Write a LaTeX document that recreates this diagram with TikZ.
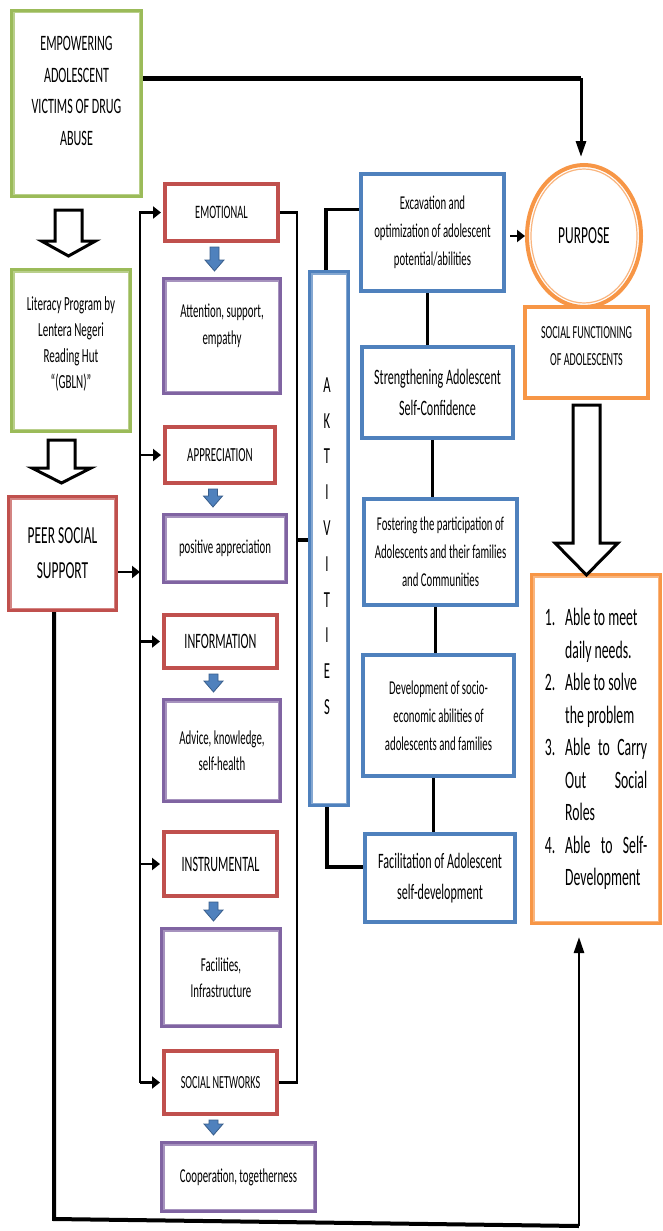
\documentclass[tikz,border=0pt]{standalone}
\usepackage{fontspec}
\setmainfont{Carlito}[FakeStretch=0.55]
\usetikzlibrary{arrows.meta,calc,shapes.geometric}
\definecolor{boxgreen}{HTML}{9BBB59}
\definecolor{boxred}{HTML}{C0504D}
\definecolor{boxpurple}{HTML}{8064A2}
\definecolor{boxblue}{HTML}{4F81BD}
\definecolor{boxorange}{HTML}{F79646}
\definecolor{arrowblue}{HTML}{4F81BD}
\definecolor{arrowedge}{HTML}{385D8A}

\begin{document}
\begin{tikzpicture}[x=1pt,y=-1pt]
    % Node styles
    \tikzset{
        box/.style={draw=#1, line width=4pt, fill=white, align=center, inner sep=2pt},
        innerline/.style={draw=#1!70, line width=1.2pt},
        txt/.style={align=center, inner sep=0pt},
        smalltext/.style={font=\fontsize{19.7}{26.5}\selectfont},
        midtext/.style={font=\fontsize{22}{31.5}\selectfont},
        bigtext/.style={font=\fontsize{24.5}{35}\selectfont},
        conn/.style={line width=2.8pt},
        arr/.style={-{Triangle[length=8pt,width=12pt]}},
        longarr/.style={-{Triangle[length=16pt,width=10pt]}},
        hollow/.style={draw=black, line width=3pt, fill=white},
        bluearr/.style={fill=arrowblue, draw=arrowedge, line width=0.8pt}
    }
    \useasboundingbox (0,0) rectangle (662,1231);

    % --- Left column ---
    \node[box=boxgreen, minimum width=129pt, minimum height=185pt] (empower) at (76.5,103.5) {};
    \node[box=boxgreen, minimum width=118pt, minimum height=161pt] (literacy) at (71,350.5) {};
    \node[box=boxred, bigtext, minimum width=107pt, minimum height=113pt] (peer) at (62.5,553.5) {PEER SOCIAL\\SUPPORT};

    % --- Forms of support ---
    \node[box=boxred, font=\fontsize{19}{26}\selectfont, minimum width=113pt, minimum height=57pt] (emotional) at (221.5,212.5) {EMOTIONAL};
    \node[box=boxpurple, minimum width=116pt, minimum height=114pt] (attention) at (222,336) {};
    \node[box=boxred, font=\fontsize{20}{26}\selectfont, minimum width=110pt, minimum height=56pt] (appreciation) at (220,455) {APPRECIATION};
    \node[box=boxpurple, smalltext, minimum width=122pt, minimum height=67pt] (positive) at (225,548.5) {positive appreciation};
    \node[box=boxred, midtext, minimum width=113pt, minimum height=53pt] (information) at (220.5,641.5) {INFORMATION};
    \node[box=boxpurple, smalltext, minimum width=116pt, minimum height=101pt] (advice) at (222,750.5) {Advice, knowledge,\\self-health};
    \node[box=boxred, midtext, minimum width=113pt, minimum height=64pt] (instrumental) at (220.5,864) {INSTRUMENTAL};
    \node[box=boxpurple, smalltext, minimum width=118pt, minimum height=97pt] (facilities) at (221,977.5) {Facilities,\\Infrastructure};
    \node[box=boxred, font=\fontsize{18.5}{26}\selectfont, minimum width=113pt, minimum height=63pt] (socnet) at (220.5,1082.5) {SOCIAL NETWORKS};
    \node[box=boxpurple, smalltext, minimum width=153pt, minimum height=68pt] (cooperation) at (238.5,1177) {Cooperation, togetherness};

    % --- Activities ---
    \node[box=boxblue, minimum width=38pt, minimum height=533pt] (aktiv) at (329,538.5) {};
    \node[box=boxblue, font=\fontsize{19.6}{28}\selectfont, minimum width=143pt, minimum height=117pt] (excav) at (432.5,232.5) {Excavation and\\optimization of adolescent\\potential/abilities};
    \node[box=boxblue, midtext, minimum width=151pt, minimum height=91pt] (strength) at (437.5,392.5) {Strengthening Adolescent\\Self-Confidence};
    \node[box=boxblue, font=\fontsize{19.6}{28}\selectfont, minimum width=153pt, minimum height=106pt] (foster) at (440.5,552) {Fostering the participation of\\Adolescents and their families\\and Communities};
    \node[box=boxblue, font=\fontsize{19.6}{28}\selectfont, minimum width=151pt, minimum height=121pt] (develop) at (438.5,715.5) {Development of socio-\\economic abilities of\\adolescents and families};
    \node[box=boxblue, midtext, minimum width=150pt, minimum height=88pt] (facilit) at (440,878) {Facilitation of Adolescent\\self-development};

    % --- Purpose ---
    \node[ellipse, draw=boxorange, line width=4pt, fill=white, bigtext, minimum width=114pt, minimum height=142pt] (purpose) at (584,236) {PURPOSE};
    \node[ellipse, innerline=boxorange, minimum width=106pt, minimum height=134pt] (purposering) at (purpose.center) {};
    \node[box=boxorange, minimum width=123pt, minimum height=91pt] (socfunc) at (586.5,352.5) {};
    \node[box=boxorange, font=\fontsize{25}{32.5}\selectfont, minimum width=128pt, minimum height=348pt] (list) at (596,749) {%
        \begin{tabular}{@{}r@{\hspace{10pt}}l@{}}
        1. & Able to meet\\
           & daily needs.\\
        2. & Able to solve\\
           & the problem\\
        3. & \makebox[82pt][s]{Able to Carry}\\
           & \makebox[82pt][s]{Out Social}\\
           & Roles\\
        4. & \makebox[82pt][s]{Able to Self-}\\
           & Development
        \end{tabular}};

    % double frames
    \foreach \n/\c in {empower/boxgreen, literacy/boxgreen, peer/boxred, attention/boxpurple, positive/boxpurple,
                       advice/boxpurple, facilities/boxpurple, cooperation/boxpurple, aktiv/boxblue, list/boxorange}
        \draw[innerline=\c] ([shift={(3.9pt,-3.9pt)}]\n.north west) rectangle ([shift={(-3.9pt,3.9pt)}]\n.south east);

    % texts placed off centre
    \node[txt, midtext] (empowertxt) at (76.5,91) {EMPOWERING\\ADOLESCENT\\VICTIMS OF DRUG\\ABUSE};
    \node[txt, font=\fontsize{20}{26}\selectfont] (literacytxt) at (71,344) {Literacy Program by\\Lentera Negeri\\Reading Hut\\“(GBLN)”};
    \node[txt, smalltext] (attentiontxt) at (222,326) {Attention, support,\\empathy};
    \node[txt, font=\fontsize{23}{35.8}\selectfont] (aktivtxt) at (327,546) {A\\K\\T\\I\\V\\I\\T\\I\\E\\S};
    \node[txt, font=\fontsize{18.4}{27}\selectfont] (socfunctxt) at (586.5,346.5) {SOCIAL FUNCTIONING\\OF ADOLESCENTS};

    % --- Hollow arrows ---
    \draw[hollow] let \p1=([xshift=-8pt]empower.south), \p2=(literacy.north) in
        (\x1-13.5pt,\y1-12pt) -- (\x1+13.5pt,\y1-12pt) -- (\x1+13.5pt,\y2+27pt) -- (\x1+27pt,\y2+27pt)
        -- (\x1,\y2+12pt) -- (\x1-27pt,\y2+27pt) -- (\x1-13.5pt,\y2+27pt) -- cycle;
    \draw[hollow] let \p1=([xshift=-9.5pt]literacy.south), \p2=(peer.north) in
        (\x1-13.5pt,\y1-7pt) -- (\x1+13.5pt,\y1-7pt) -- (\x1+13.5pt,\y2+27pt) -- (\x1+29.5pt,\y2+27pt)
        -- (\x1,\y2+12pt) -- (\x1-29.5pt,\y2+27pt) -- (\x1-13.5pt,\y2+27pt) -- cycle;
    \draw[hollow] let \p1=(socfunc.south), \p2=(list.north) in
        (\x1-13.5pt,\y1-5pt) -- (\x1+13.5pt,\y1-5pt) -- (\x1+13.5pt,\y2+30pt) -- (\x1+31.5pt,\y2+30pt)
        -- (\x1,\y2-2pt) -- (\x1-31.5pt,\y2+30pt) -- (\x1-13.5pt,\y2+30pt) -- cycle;

    % --- Blue arrows ---
    \foreach \a/\b in {emotional/attention, appreciation/positive, information/advice, instrumental/facilities, socnet/cooperation}
        \draw[bluearr] let \p1=([xshift=-7pt]\a.south), \p2=(\b.north) in
            (\x1-4.5pt,\y1-4pt) -- (\x1+4.5pt,\y1-4pt) -- (\x1+4.5pt,\y2+17pt) -- (\x1+9.5pt,\y2+17pt)
            -- (\x1,\y2+6pt) -- (\x1-9.5pt,\y2+17pt) -- (\x1-4.5pt,\y2+17pt) -- cycle;

    % --- Connectors ---
    \coordinate (topbend) at (581,78);
    \coordinate (purposetop) at ([yshift=6pt]purpose.north);
    \draw[line width=5pt] (empower.east |- topbend) -- (topbend);
    \draw[line width=3pt, longarr] (topbend) -- (topbend |- purposetop);

    \coordinate (botleft) at (54,1219);
    \coordinate (botright) at (579,1226);
    \coordinate (listin) at ([yshift=-12pt]list.south);
    \draw[line width=4pt] (peer.south -| botleft) -- (botleft) -- (botright);
    \draw[line width=2.5pt, longarr] (botright) -- (listin -| botright);

    \coordinate (lb) at (140,572);
    \draw[conn, arr] (peer.east |- lb) -- (lb);
    \draw[conn, arr] (socnet.west -| lb) |- ([xshift=-2pt]emotional.west);
    \foreach \n in {appreciation, information, instrumental, socnet}
        \draw[conn, arr] (\n.west -| lb) -- ([xshift=-2pt]\n.west);

    \coordinate (rb) at (297,540);
    \draw[conn] (emotional.east) -| (rb) |- (socnet.east);
    \draw[line width=4pt] (rb) -- (rb -| aktiv.west);

    \draw[line width=3.5pt] ([xshift=-3pt]aktiv.north) |- ([yshift=23pt]excav.west);
    \draw[line width=3.5pt] ([xshift=-2pt]aktiv.south) |- ([yshift=11pt]facilit.west);

    \foreach \a/\b in {excav/strength, strength/foster, foster/develop, develop/facilit}
        \draw[conn] ([xshift=-5pt]\a.south) -- ([xshift=-5pt]\a.south |- \b.north);

    \draw[conn, arr] ([xshift=4pt]excav.east |- purpose.west) -- (purpose.west);
\end{tikzpicture}
\end{document}
